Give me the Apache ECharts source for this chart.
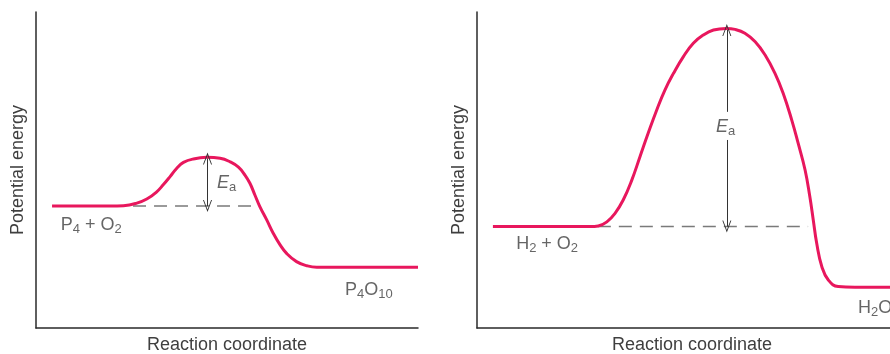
<!DOCTYPE html>
<html>
<head>
<meta charset="utf-8">
<script src="https://cdn.jsdelivr.net/npm/echarts@6/dist/echarts.min.js"></script>
<style>html,body{margin:0;padding:0;background:#fff}#c{width:890px;height:354px}</style>
</head>
<body>
<div id="c"></div>
<script>
// Left panel: P4 + O2 -> P4O10 (reaction coordinate 0-100, potential energy 0-100)
var leftCurveX = [4.2, 19.4, 22.9, 26.4, 29.0, 31.6, 33.3, 35.1, 36.8, 38.6, 41.2, 44.7, 48.2, 50.8, 53.0, 54.7, 56.0, 57.3, 58.6, 60.4, 62.1, 63.9, 65.6, 68.2, 70.9, 73.5, 100];
var leftCurveY = [38.6, 38.6, 38.7, 39.5, 40.8, 43.1, 45.3, 47.9, 50.5, 52.4, 53.5, 54.0, 53.7, 52.6, 50.9, 48.4, 45.8, 42.1, 38.4, 34.2, 30.0, 26.3, 23.6, 21.0, 19.7, 19.2, 19.2];
var leftBaseline = { x1: 25.4, x2: 58.3, y: 38.6 };
var leftArrow = { x: 44.9, y1: 38.6, y2: 53.6 };

// Right panel: H2 + O2 -> H2O
var rightCurveX = [3.7, 26.3, 28.2, 30.2, 32.1, 34.0, 36.0, 37.9, 39.8, 41.8, 43.7, 45.7, 48.0, 50.3, 52.6, 55.0, 58.0, 60.0, 62.3, 64.7, 67.0, 69.3, 71.2, 73.2, 74.7, 76.3, 77.4, 78.2, 79.0, 80.2, 81.7, 84.0, 87.9, 100];
var rightCurveY = [32.1, 32.1, 32.3, 33.6, 36.3, 40.5, 46.8, 54.2, 61.6, 69.0, 75.3, 80.6, 85.9, 90.1, 92.7, 94.3, 94.8, 94.5, 93.3, 90.6, 86.4, 80.6, 74.3, 65.8, 58.4, 50.0, 41.6, 34.2, 26.8, 19.4, 15.2, 13.1, 12.9, 12.9];
var rightBaseline = { x1: 28.1, x2: 77.0, y: 32.1 };
var rightArrowUpper = { x: 58.1, y1: 68.4, y2: 94.3 };
var rightArrowLower = { x: 58.1, y1: 59.5, y2: 32.1 };

// Text labels
var axisNameY = 'Potential energy';
var axisNameX = 'Reaction coordinate';
var leftLabels = [
  { x: 6.5, y: 32.6, text: '{n|P}{s|4}{n| + O}{s|2}' },
  { x: 80.9, y: 12.0, text: '{n|P}{s|4}{n|O}{s|10}' },
  { x: 47.4, y: 45.9, text: '{i|E}{s|a}' }
];
var rightLabels = [
  { x: 9.1, y: 26.6, text: '{n|H}{s|2}{n| + O}{s|2}' },
  { x: 88.6, y: 6.3, text: '{n|H}{s|2}{n|O}' },
  { x: 55.6, y: 63.6, text: '{i|E}{s|a}' }
];

var RED = '#e8175d';
var FONT = '"Liberation Sans", Arial, sans-serif';
var TXT = '#3f3f3f';
var rich = {
  n: { fontSize: 18, fontFamily: FONT, color: TXT, lineHeight: 22, verticalAlign: 'middle' },
  i: { fontSize: 18, fontFamily: FONT, fontStyle: 'italic', color: TXT, lineHeight: 22, verticalAlign: 'middle' },
  s: { fontSize: 13, fontFamily: FONT, color: TXT, lineHeight: 12, verticalAlign: 'bottom' }
};

function pairs(xs, ys) { return xs.map(function (x, i) { return [x, ys[i]]; }); }

var chevron = 'path://M0,14 L5,0 L10,14 L9,14 L5,3 L1,14 Z';

function makeAxes(idx) {
  return {
    x: {
      type: 'value', gridIndex: idx, min: 0, max: 100,
      name: axisNameX, nameLocation: 'middle', nameGap: 8,
      nameTextStyle: { fontSize: 18, fontFamily: FONT, color: TXT, verticalAlign: 'top' },
      axisLine: { show: true, lineStyle: { color: '#2a2a2a', width: 1.5 } },
      axisTick: { show: false }, axisLabel: { show: false }, splitLine: { show: false }
    },
    y: {
      type: 'value', gridIndex: idx, min: 0, max: 100,
      name: axisNameY, nameLocation: 'middle', nameGap: 9,
      nameTextStyle: { fontSize: 18, fontFamily: FONT, color: TXT },
      axisLine: { show: true, lineStyle: { color: '#2a2a2a', width: 1.5 } },
      axisTick: { show: false }, axisLabel: { show: false }, splitLine: { show: false }
    }
  };
}

var a0 = makeAxes(0), a1 = makeAxes(1);

function labelSeries(idx, labels) {
  return {
    type: 'scatter', xAxisIndex: idx, yAxisIndex: idx, symbolSize: 0, silent: true, z: 5,
    data: labels.map(function (l) {
      return { value: [l.x, l.y], label: { show: true, position: 'right', distance: 0, formatter: l.text, rich: rich } };
    })
  };
}

function curveSeries(idx, xs, ys) {
  return {
    type: 'line', xAxisIndex: idx, yAxisIndex: idx, data: pairs(xs, ys), smooth: 0.45,
    showSymbol: false, symbol: 'none', z: 4,
    lineStyle: { color: RED, width: 3 }
  };
}

function dashSeries(idx, b) {
  return {
    type: 'line', xAxisIndex: idx, yAxisIndex: idx, data: [[b.x1, b.y], [b.x2, b.y]],
    showSymbol: false, symbol: 'none', z: 2,
    lineStyle: { color: '#7a7a7a', width: 1.5, type: [13, 8] }
  };
}

function arrowSeries(idx, segs) {
  return {
    type: 'line', xAxisIndex: idx, yAxisIndex: idx, data: [], symbol: 'none',
    markLine: {
      silent: true, animation: false,
      symbolSize: [9, 12],
      label: { show: false },
      lineStyle: { color: '#333', width: 1, type: 'solid' },
      data: segs.map(function (s) {
        return [
          { coord: [s.x, s.y1], symbol: s.a1 ? chevron : 'none' },
          { coord: [s.x, s.y2], symbol: s.a2 ? chevron : 'none' }
        ];
      })
    }
  };
}

var chart = echarts.init(document.getElementById('c'), null, { renderer: 'canvas' });
chart.setOption({
  animation: false,
  backgroundColor: '#fff',
  grid: [
    { left: 36, right: 472, top: 12, bottom: 26, outerBoundsMode: 'none', containLabel: false },
    { left: 477, right: -17, top: 12, bottom: 26, outerBoundsMode: 'none', containLabel: false }
  ],
  xAxis: [a0.x, a1.x],
  yAxis: [a0.y, a1.y],
  series: [
    dashSeries(0, leftBaseline),
    arrowSeries(0, [{ x: leftArrow.x, y1: leftArrow.y1, y2: leftArrow.y2, a1: true, a2: true }]),
    curveSeries(0, leftCurveX, leftCurveY),
    labelSeries(0, leftLabels),
    dashSeries(1, rightBaseline),
    arrowSeries(1, [
      { x: rightArrowUpper.x, y1: rightArrowUpper.y1, y2: rightArrowUpper.y2, a1: false, a2: true },
      { x: rightArrowLower.x, y1: rightArrowLower.y1, y2: rightArrowLower.y2, a1: false, a2: true }
    ]),
    curveSeries(1, rightCurveX, rightCurveY),
    labelSeries(1, rightLabels)
  ]
});
</script>
</body>
</html>
